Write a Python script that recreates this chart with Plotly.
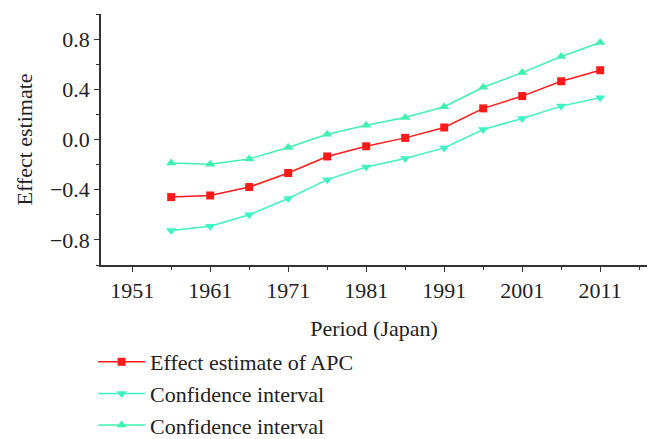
import plotly.graph_objects as go

periods = [1956, 1961, 1966, 1971, 1976, 1981, 1986, 1991, 1996, 2001, 2006, 2011]
effect = [-0.459, -0.446, -0.379, -0.267, -0.135, -0.054, 0.013, 0.096, 0.248, 0.346, 0.464, 0.552]
ci_lower = [-0.726, -0.691, -0.600, -0.470, -0.320, -0.219, -0.152, -0.067, 0.080, 0.168, 0.266, 0.333]
ci_upper = [-0.187, -0.198, -0.155, -0.064, 0.042, 0.114, 0.176, 0.261, 0.416, 0.533, 0.661, 0.773]
x_ticks = [1951, 1961, 1971, 1981, 1991, 2001, 2011]
y_ticks = [-0.8, -0.4, 0.0, 0.4, 0.8]
y_ticklabels = ["\u22120.8", "\u22120.4", "0.0", "0.4", "0.8"]

RED = "#ff1a1a"
AQUA_D = "#3ff2c4"
AQUA_U = "#3ff0b0"
FONT = "Liberation Serif"
FS = 22

fig = go.Figure()
fig.add_trace(go.Scatter(x=periods, y=effect, mode="lines+markers",
                         name="Effect estimate of APC", legendgroup="a",
                         line=dict(color=RED, width=1.5),
                         marker=dict(symbol="square", size=8, color=RED)))
fig.add_trace(go.Scatter(x=periods, y=ci_lower, mode="lines+markers",
                         name="Confidence interval", legendgroup="b",
                         line=dict(color=AQUA_D, width=1.5),
                         marker=dict(symbol="triangle-down", size=9, color=AQUA_D)))
fig.add_trace(go.Scatter(x=periods, y=ci_upper, mode="lines+markers",
                         name="Confidence interval", legendgroup="c",
                         line=dict(color=AQUA_U, width=1.5),
                         marker=dict(symbol="triangle-up", size=9, color=AQUA_U)))

# page body adds an 8px margin, so the figure is 653x431 to fill the 661x439 window
fig.update_layout(
    width=653, height=431,
    margin=dict(l=93, r=14, t=6, b=174, autoexpand=False),
    paper_bgcolor="white", plot_bgcolor="white",
    font=dict(family=FONT, size=FS, color="#222222"),
    showlegend=True,
    legend=dict(x=-0.0145, y=0.2274, xanchor="left", yanchor="top", yref="container",
                traceorder="grouped", tracegroupgap=0, itemwidth=47,
                font=dict(family=FONT, size=FS, color="#222222"),
                bgcolor="rgba(0,0,0,0)"),
    xaxis=dict(range=[1947, 2017], tickvals=x_ticks, ticks="outside",
               ticklen=5, tickwidth=1.3, tickcolor="#333333",
               showline=True, linecolor="#333333", linewidth=1.5,
               showgrid=False, zeroline=False, automargin=False,
               minor=dict(tickvals=[1956, 1966, 1976, 1986, 1996, 2006, 2016],
                          ticks="outside", ticklen=3, tickcolor="#333333", tickwidth=1.2),
               title=dict(text="Period (Japan)", font=dict(family=FONT, size=FS), standoff=26)),
    yaxis=dict(range=[-1.0, 1.0], tickvals=y_ticks, ticktext=y_ticklabels,
               ticks="outside", ticklen=5, tickwidth=1.3, tickcolor="#333333",
               showline=True, linecolor="#333333", linewidth=1.5,
               showgrid=False, zeroline=False, automargin=False,
               minor=dict(tickvals=[-1.0, -0.6, -0.2, 0.2, 0.6, 1.0],
                          ticks="outside", ticklen=3, tickcolor="#333333", tickwidth=1.2),
               title=dict(text="Effect estimate", font=dict(family=FONT, size=FS), standoff=11)),
)

fig.write_html("out.html")
